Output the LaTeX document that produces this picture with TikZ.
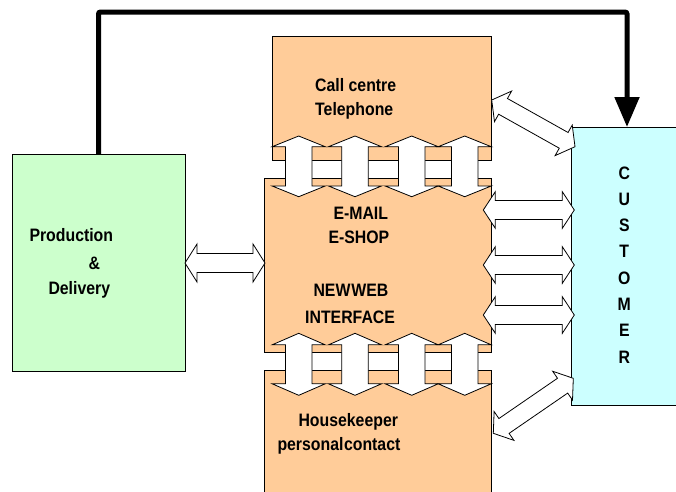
\documentclass[tikz,border=0pt]{standalone}
\usepackage{fontspec}
\newfontfamily\labfont{Liberation Sans}[FakeStretch=0.88]
\usetikzlibrary{calc,arrows.meta}
\definecolor{peach}{HTML}{FFCC99}
\definecolor{mint}{HTML}{CCFFCC}
\definecolor{aqua}{HTML}{CCFFFF}
\tikzset{
  panel/.style={draw=black, line width=0.8pt, anchor=north west, inner sep=0pt, outer sep=0pt},
  lab/.style={anchor=base west, inner sep=0pt, font=\labfont\bfseries\fontsize{18}{21}\selectfont},
  letter/.style={anchor=base, inner sep=0pt, font=\labfont\bfseries\fontsize{18}{21}\selectfont},
  fat/.style={draw=black, fill=white, line width=0.8pt, line join=miter},
  feedback/.style={line width=5pt, -{Triangle[length=30pt,width=24pt]}, rounded corners=2pt},
}
% Double-headed block arrow: start, end, shaft half width, head half width, head length
\newcommand\fatarrow[5]{%
  \path ($(#1)!#5!(#2)$) coordinate (fa-p) ($(#2)!#5!(#1)$) coordinate (fa-q);
  \draw[fat] (#1) -- ($(fa-p)!#4!90:(#2)$) -- ($(fa-p)!#3!90:(#2)$)
    -- ($(fa-q)!#3!-90:(#1)$) -- ($(fa-q)!#4!-90:(#1)$) -- (#2)
    -- ($(fa-q)!#4!90:(#1)$) -- ($(fa-q)!#3!90:(#1)$)
    -- ($(fa-p)!#3!-90:(#2)$) -- ($(fa-p)!#4!-90:(#2)$) -- cycle;
}
\begin{document}
\begin{tikzpicture}[x=1pt,y=-1pt]
\clip (0,0) rectangle (676,491);
\fill[white] (0,0) rectangle (676,491);

% channel panels
\node[panel, fill=peach, minimum width=219.5pt, minimum height=124pt] (callc) at (272,36) {};
\node[panel, fill=peach, minimum width=227.5pt, minimum height=174pt] (web) at (264,178) {};
\node[panel, fill=peach, minimum width=227.5pt, minimum height=140pt] (house) at (264,370) {};
\node[panel, fill=aqua, minimum width=130pt, minimum height=278pt] (cust) at (571,127) {};
\node[panel, fill=mint, minimum width=173pt, minimum height=217pt] (prod) at (12,154) {};

% links between the stacked channels
\foreach \cx [count=\i] in {298.7,355,411.7,464.7} {
  \coordinate (ua\i) at (\cx,136);
  \coordinate (ub\i) at (\cx,196.7);
  \coordinate (la\i) at (\cx,333.3);
  \coordinate (lb\i) at (\cx,395.3);
  \fatarrow{ua\i}{ub\i}{13.3pt}{26.5pt}{10.7pt}
  \fatarrow{la\i}{lb\i}{13.3pt}{26.5pt}{11.5pt}
}

% production <-> web
\coordinate (pw1) at (185,263);
\coordinate (pw2) at (265,263);
\fatarrow{pw1}{pw2}{9.5pt}{19pt}{12pt}

% channels <-> customer
\foreach \cy [count=\i] in {210,265,315} {
  \coordinate (wl\i) at (483.3,\cy);
  \coordinate (wr\i) at (574.3,\cy);
  \fatarrow{wl\i}{wr\i}{9.5pt}{18.3pt}{12pt}
}
\coordinate (ct1) at (491.7,100);
\coordinate (ct2) at (575,146.7);
\fatarrow{ct1}{ct2}{9pt}{17.5pt}{13pt}
\coordinate (hc1) at (493.3,433.3);
\coordinate (hc2) at (573.3,378.3);
\fatarrow{hc1}{hc2}{9pt}{17.5pt}{13pt}

% labels
\node[lab] (t1) at (315,91.5) {Call centre};
\node[lab] (t2) at (315,115) {Telephone};
\node[lab] (t3) at (333.3,219) {E-MAIL};
\node[lab] (t4) at (328.3,243.3) {E-SHOP};
\node[lab] (t5) at (313.3,296.7) {\spaceskip=1pt NEW WEB};
\node[lab] (t6) at (305,323.3) {INTERFACE};
\node[lab] (t7) at (298.3,426) {Housekeeper};
\node[lab] (t8) at (277.3,450) {\spaceskip=0.5pt personal contact};
\node[lab] (t9) at (29.3,241.7) {Production};
\node[lab] (t10) at (88.3,269.3) {\&};
\node[lab] (t11) at (48.3,294.5) {Delivery};
\foreach \ch [count=\i] in {C,U,S,T,O,M,E,R} {
  \node[letter] (cl\i) at (624.3,{179+26.3*(\i-1)}) {\ch};
}

% delivery feedback to the customer
\coordinate (ytop) at (0,12);
\coordinate (ctop) at ($(cust.north west)+(56,0)$);
\draw[feedback] (prod.north) -- (prod.north |- ytop) -- (ctop |- ytop) -- (ctop);
\end{tikzpicture}
\end{document}
